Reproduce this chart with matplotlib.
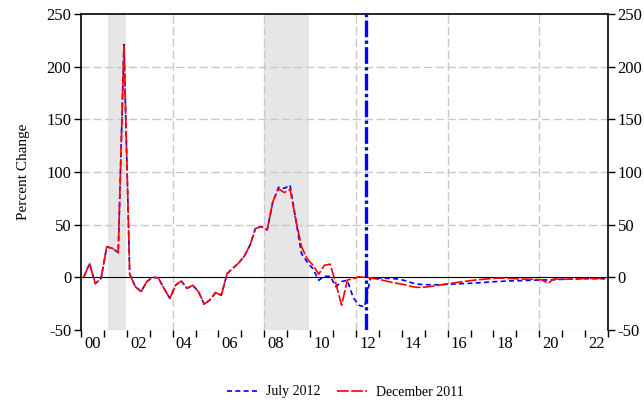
import matplotlib
matplotlib.use("Agg")
import matplotlib.pyplot as plt
import numpy as np

plt.rcParams['font.family'] = ['Liberation Serif', 'DejaVu Serif']

# Quarterly data 2000Q1 .. 2022Q4 (plotted at mid-quarter)
start_year = 2000
n_quarters = 92

dec2011 = [0.5, 13, -6, -1,
           29, 27.5, 23.5, 221,
           3, -9, -13.5, -4,
           0, -0.5, -10.5, -20,
           -7.5, -3.5, -10.5, -7.5,
           -13.5, -25.5, -21.5, -14.5,
           -17, 3.5, 8.5, 13.5,
           20, 30.5, 46.5, 48,
           45, 72, 84, 80.5,
           83.5, 54.5, 29, 17.5,
           11.5, 3, 11.5, 12.5,
           -6, -26.5, -2.5, -1.5,
           0.5, 0, -0.5, -1.5,
           -2.5, -3.8, -5, -6,
           -7, -8.5, -9.5, -9.5,
           -9, -8.3, -7.5, -6.5,
           -5.8, -5, -4.2, -3.5,
           -2.8, -2.2, -1.7, -1.2,
           -0.8, -0.8, -1, -1.2,
           -1.5, -1.6, -1.8, -2,
           -2.5, -5.8, -1.6, -1.6,
           -1.8, -1.8, -1.5, -1.3,
           -1.1, -1, -1, -1]

jul2012 = [0.5, 13, -6, -1,
           29, 27.5, 23.5, 221,
           3, -9, -13.5, -4,
           0, -0.5, -10.5, -20,
           -7.5, -3.5, -10.5, -7.5,
           -13.5, -25.5, -21.5, -14.5,
           -17, 3.5, 8.5, 13.5,
           20, 30.5, 47.5, 48,
           45, 72, 85.5, 84.5,
           87.5, 54.5, 22.5, 14.5,
           8, -2.8, 1, 1,
           -9, -4, -2.8, -19,
           -26.5, -28, -1, -0.8,
           -0.8, -1, -1.2, -1.8,
           -3, -4.8, -6.3, -6.8,
           -7, -7, -7, -6.8,
           -6.5, -6.2, -6, -5.8,
           -5.5, -5.2, -4.8, -4.4,
           -4, -3.8, -3.5, -3.3,
           -3.2, -3, -2.8, -2.6,
           -2.5, -2.5, -2.3, -2,
           -1.8, -1.6, -1.5, -1.4,
           -1.3, -1.3, -1.3, -1.3]

recessions = [(2001.17, 2001.95), (2008.0, 2009.95)]
forecast_line = 2012.44

year_ticks = list(range(2000, 2024))
label_years = list(range(2000, 2023, 2))
label_text = ["00", "02", "04", "06", "08", "10", "12", "14", "16", "18", "20", "22"]
grid_years = [2004, 2008, 2012, 2016, 2020]
y_ticks = [-50, 0, 50, 100, 150, 200, 250]

t = start_year + (np.arange(n_quarters) + 0.5) / 4.0

fig = plt.figure(figsize=(6.44, 4.07), dpi=100)
ax = fig.add_axes([81/644, 77/407, 527/644, 316/407])

gridc = '#c8c8c8'
for a, b in recessions:
    ax.axvspan(a, b, color='#e6e6e6', zorder=0, lw=0)
for g in grid_years:
    ax.axvline(g, color=gridc, lw=1.0, dashes=(6, 2.5), zorder=1)
for yv in [-50, 50, 100, 150, 200]:
    ax.axhline(yv, color=gridc, lw=1.0, dashes=(6, 2.5), zorder=1)
ax.axhline(0, color='black', lw=0.8, zorder=2)

ax.plot(t, jul2012, color='#0000ff', lw=1.2, dashes=(3, 2), zorder=3, label='July 2012')
ax.plot(t, dec2011, color='#ff0000', lw=1.2, dashes=(7, 1.5), zorder=4, label='December 2011')
ax.axvline(forecast_line, color='#0000ff', lw=2.4, dashes=(5, 1, 1, 1), zorder=5)

ax.set_xlim(2000, 2023)
ax.set_ylim(-50, 250)
ax.set_xticks(year_ticks)
ax.set_xticklabels([])
ax.set_xticks([y + 0.5 for y in label_years], minor=True)
ax.set_xticklabels(label_text, minor=True)
ax.tick_params(axis='x', which='major', direction='out', length=5, width=1, bottom=True, top=False)
ax.tick_params(axis='x', which='minor', length=0, labelsize=12, pad=4)
ax.set_yticks(y_ticks)
ax.set_yticklabels([str(v) for v in y_ticks])
ax.tick_params(axis='y', direction='out', length=5, width=1, labelsize=12,
               left=True, right=True, labelleft=True, labelright=True, pad=2)

for s in ['left', 'right', 'top']:
    ax.spines[s].set_linewidth(1.2)
    ax.spines[s].set_color('black')
ax.spines['bottom'].set_visible(False)

ax.set_ylabel('Percent Change', fontsize=11, labelpad=12)

h, l = ax.get_legend_handles_labels()
fig.legend(h, l, loc='center', bbox_to_anchor=(345/644, 15/407),
           ncol=2, frameon=False, fontsize=10, handlelength=2.2, columnspacing=1.2,
           handletextpad=0.6)

fig.savefig('out.png', dpi=100)
